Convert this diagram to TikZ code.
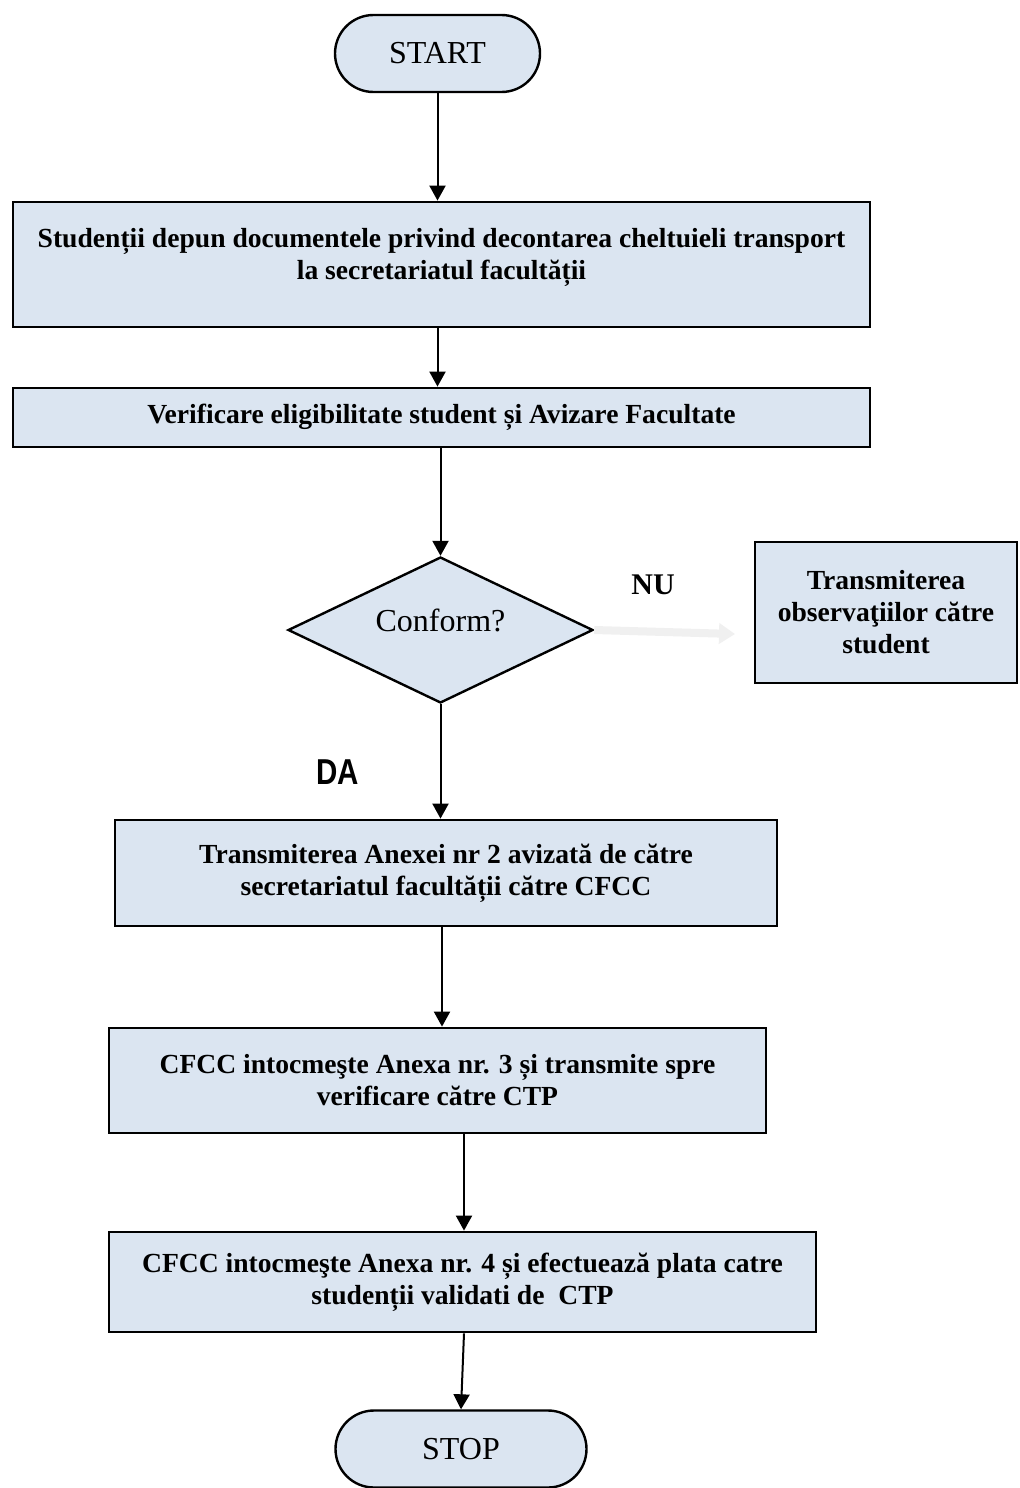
\documentclass[tikz,border=0pt]{standalone}
\usepackage{fontspec}
\setmainfont{Liberation Serif}
\newfontfamily\arialfont{Liberation Sans}
\usetikzlibrary{shapes.geometric,shapes.misc,arrows.meta,calc}
\definecolor{boxfill}{RGB}{219,229,241}
\definecolor{nuarrow}{RGB}{240,240,240}
\tikzset{
  boxfont/.style={font=\fontsize{13.8}{16}\selectfont\bfseries},
  procbox/.style={draw=black,line width=1.4pt,fill=boxfill,align=center,inner sep=2pt,boxfont},
  termbox/.style={draw=black,line width=1.2pt,fill=boxfill,rounded rectangle,inner sep=0pt,
    font=\fontsize{16}{19}\selectfont},
  decbox/.style={draw=black,line width=1.2pt,fill=boxfill,diamond,inner sep=0pt,
    font=\fontsize{16}{19}\selectfont},
  arr/.style={line width=1pt,-{Triangle[length=7.5pt,width=8pt]}},
}
\begin{document}
\begin{tikzpicture}[x=0.5pt,y=-0.5pt]
\clip (0,0) rectangle (1019,1488);
\fill[white] (0,0) rectangle (1019,1488);
\node[termbox,minimum width=102.5pt,minimum height=38.5pt] (start) at (437.5,53.5) {START};
\node[procbox,minimum width=428.5pt,minimum height=62.5pt] (b1) at (441.5,264.5) {};
\node[boxfont,align=center] (b1t) at (441.5,257)
  {Studenții depun documentele privind decontarea cheltuieli transport\\la secretariatul facultății};
\node[procbox,minimum width=428.5pt,minimum height=29.5pt] (b2) at (441.5,417.5)
  {Verificare eligibilitate student și Avizare Facultate};
\node[decbox,minimum width=152.5pt,minimum height=73pt] (dec) at (440.5,630) {};
\node[font=\fontsize{16}{19}\selectfont] (dect) at (440.5,620) {Conform?};
\node[procbox,minimum width=131pt,minimum height=70.5pt] (nu) at (886,612.5)
  {Transmiterea\\observaţiilor către\\student};
\node[font=\fontsize{15}{18}\selectfont\bfseries] (nul) at (653,585) {NU};
\node[font=\arialfont\fontsize{18}{20}\selectfont\bfseries] (dal) at (338,772) {\scalebox{0.82}[1]{DA}};
\node[procbox,minimum width=331pt,minimum height=53pt] (b3) at (446,873)
  {Transmiterea Anexei nr 2 avizată de către\\secretariatul facultății către CFCC};
\node[procbox,minimum width=328.5pt,minimum height=52.5pt] (b4) at (437.5,1080.5)
  {CFCC intocmeşte Anexa nr. 3 și transmite spre\\verificare către CTP};
\node[procbox,minimum width=353.5pt,minimum height=50pt] (b5) at (462.5,1282)
  {CFCC intocmeşte Anexa nr. 4 și efectuează plata catre\\studenții validati de\ \ CTP};
\node[termbox,minimum width=125.5pt,minimum height=38.5pt] (stop) at (461,1449) {STOP};
\coordinate (nuend) at (735,634);
\draw[arr] (start.south) -- (start.south |- b1.north);
\draw[arr] (start.south |- b1.south) -- (start.south |- b2.north);
\draw[arr] (dec.north |- b2.south) -- (dec.north);
\draw[arr] (dec.south) -- (dec.south |- b3.north);
\draw[arr] ($(dec.south |- b3.south)+(1.5,0)$) -- ($(dec.south |- b4.north)+(1.5,0)$);
\draw[arr] ($(b4.south)+(26.5,0)$) -- ($(b4.south |- b5.north)+(26.5,0)$);
\draw[arr] ($(b5.south)+(1.5,0)$) -- (stop.north);
\draw[draw=nuarrow,line width=4pt,-{Triangle[length=8pt,width=10pt]}] (dec.east) -- (nuend);
\end{tikzpicture}
\end{document}
